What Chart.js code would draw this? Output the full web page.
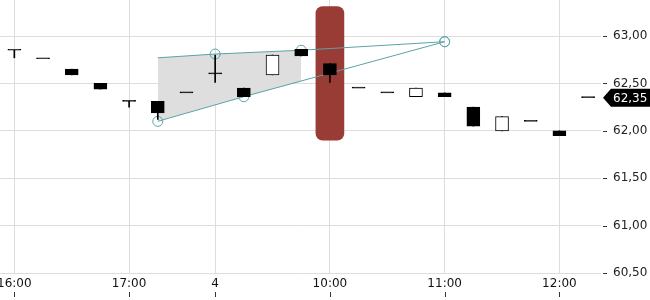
<!DOCTYPE html>
<html>
<head>
<meta charset="utf-8">
<script src="https://cdn.jsdelivr.net/npm/chart.js@4"></script>
<style>
  body { margin: 0; background: #fff; }
  #wrap { width: 650px; height: 300px; }
</style>
</head>
<body>
<div id="wrap"><canvas id="quotes" width="650" height="300"></canvas></div>
<script>
// 15 minute candles, last session of day 3 then the morning of day 4
const times = ['16:00','16:15','16:30','16:45','17:00','17:15','17:30',
  '09:00','09:15','09:30','09:45','10:00','10:15','10:30','10:45',
  '11:00','11:15','11:30','11:45','12:00','12:15'];
const opens  = [62.85,62.76,62.65,62.50,62.31,62.31,62.40,62.60,62.45,62.59,62.86,62.71,62.45,62.40,62.36,62.40,62.25,62.00,62.10,62.00,62.35];
const highs  = [62.85,62.76,62.65,62.50,62.31,62.31,62.40,62.80,62.45,62.80,62.86,62.71,62.45,62.40,62.45,62.40,62.25,62.15,62.10,62.00,62.35];
const lows   = [62.77,62.76,62.59,62.44,62.25,62.12,62.40,62.51,62.36,62.59,62.79,62.51,62.45,62.40,62.36,62.36,62.05,62.00,62.10,61.95,62.35];
const closes = [62.85,62.76,62.59,62.44,62.31,62.19,62.40,62.60,62.36,62.80,62.79,62.59,62.45,62.40,62.45,62.36,62.05,62.15,62.10,61.95,62.35];

const axisTicks = [0, 4, 7, 11, 15, 19];
const axisText = ['16:00', '17:00', '4', '10:00', '11:00', '12:00'];
const priceTicks = [60.5, 61, 61.5, 62, 62.5, 63];

// drawings on top of the chart
const upperX = [5, 7, 10, 15];
const upperY = [62.77, 62.81, 62.85, 62.94];
const lowerX = [5, 8, 15];
const lowerY = [62.10, 62.36, 62.94];
const shadeTopX = [5, 7, 10];
const shadeTopY = [62.77, 62.81, 62.85];
const shadeBotX = [5, 8, 10];
const shadeBotY = [62.10, 62.36, 62.52];
const bandX = 11;
const bandRange = [61.90, 63.31];

const teal = '#5ba3a8';
const fmt = v => v.toFixed(2).replace('.', ',');

Chart.defaults.font.family = 'DejaVu Sans';
Chart.defaults.font.size = 12;

const bodies = times.map((t, i) => ({ x: i, y: [opens[i], closes[i]] }));
const wicks = times.map((t, i) => ({ x: i, y: highs[i] > lows[i] ? [lows[i], highs[i]] : null }));
const pts = (xs, ys) => xs.map((x, i) => ({ x: x, y: ys[i] }));

const noPad = s => { s.paddingTop = 0; s.paddingBottom = 0; s.paddingLeft = 0; s.paddingRight = 0; };

const extras = {
  id: 'extras',
  afterDraw(chart) {
    const c = chart.ctx, xs = chart.scales.x, ys = chart.scales.y, a = chart.chartArea;
    c.save();
    c.fillStyle = '#333';
    priceTicks.forEach(v => {
      const y = Math.round(ys.getPixelForValue(v));
      c.fillRect(a.right + 2, y, 4, 1);
    });
    axisTicks.forEach(v => {
      const x = Math.round(xs.getPixelForValue(v));
      c.fillRect(x, 292, 1, 5);
    });
    // last price tag
    const last = closes[closes.length - 1];
    const y = ys.getPixelForValue(last);
    const l = a.right + 2;
    c.fillStyle = '#000';
    c.beginPath();
    c.moveTo(l, y);
    c.lineTo(l + 8, y - 9);
    c.lineTo(650, y - 9);
    c.lineTo(650, y + 9);
    c.lineTo(l + 8, y + 9);
    c.closePath();
    c.fill();
    c.fillStyle = '#fff';
    c.textBaseline = 'middle';
    c.font = '12px "DejaVu Sans"';
    c.fillText(fmt(last), a.right + 12, y + 1);
    c.restore();
  }
};

new Chart(document.getElementById('quotes'), {
  type: 'bar',
  data: {
    datasets: [
      {
        type: 'bar', data: bodies, order: 0, grouped: false,
        barThickness: 13, minBarLength: 1, borderSkipped: false, borderWidth: 1,
        borderColor: '#000',
        backgroundColor: times.map((t, i) => closes[i] > opens[i] ? '#fff' : '#000')
      },
      {
        type: 'bar', data: wicks, order: 1, grouped: false,
        barThickness: 1, borderWidth: 0, backgroundColor: '#000'
      },
      {
        type: 'line', data: pts(upperX, upperY), order: 2,
        borderColor: teal, borderWidth: 1, fill: false,
        pointRadius: [0, 5, 5, 5], pointBorderColor: teal, pointBorderWidth: 1,
        pointBackgroundColor: 'rgba(0,0,0,0)'
      },
      {
        type: 'line', data: pts(lowerX, lowerY), order: 2,
        borderColor: teal, borderWidth: 1, fill: false,
        pointRadius: 5, pointBorderColor: teal, pointBorderWidth: 1,
        pointBackgroundColor: 'rgba(0,0,0,0)'
      },
      {
        type: 'line', data: pts(shadeTopX, shadeTopY), order: 3,
        borderWidth: 0, pointRadius: 0, fill: '+1', backgroundColor: '#dedede'
      },
      {
        type: 'line', data: pts(shadeBotX, shadeBotY), order: 3,
        borderWidth: 0, pointRadius: 0, fill: false
      },
      {
        type: 'bar', data: [{ x: bandX, y: bandRange }], order: 4, grouped: false,
        barThickness: 28, borderRadius: 7, borderSkipped: false, borderWidth: 0,
        backgroundColor: '#993c36'
      }
    ]
  },
  options: {
    responsive: false,
    animation: false,
    layout: { padding: 0, autoPadding: false },
    plugins: { legend: { display: false }, tooltip: { enabled: false } },
    scales: {
      x: {
        type: 'linear', min: -0.5, max: 20.45, offset: false,
        border: { display: false },
        grid: { color: '#dddddd', drawTicks: false, offset: false },
        afterBuildTicks: s => { s.ticks = axisTicks.map(v => ({ value: v })); },
        afterFit: s => { s.height = 27; noPad(s); },
        ticks: {
          includeBounds: false, maxRotation: 0, autoSkip: false, padding: 4, color: '#111',
          callback: v => axisText[axisTicks.indexOf(v)]
        }
      },
      y: {
        position: 'right', min: 60.5, max: 63.38,
        border: { display: false },
        grid: { color: '#dddddd', drawTicks: false },
        afterFit: s => { s.width = 49; noPad(s); },
        ticks: {
          stepSize: 0.5, includeBounds: false, padding: 12, color: '#222',
          callback: v => fmt(v)
        }
      }
    }
  },
  plugins: [extras]
});
</script>
</body>
</html>
